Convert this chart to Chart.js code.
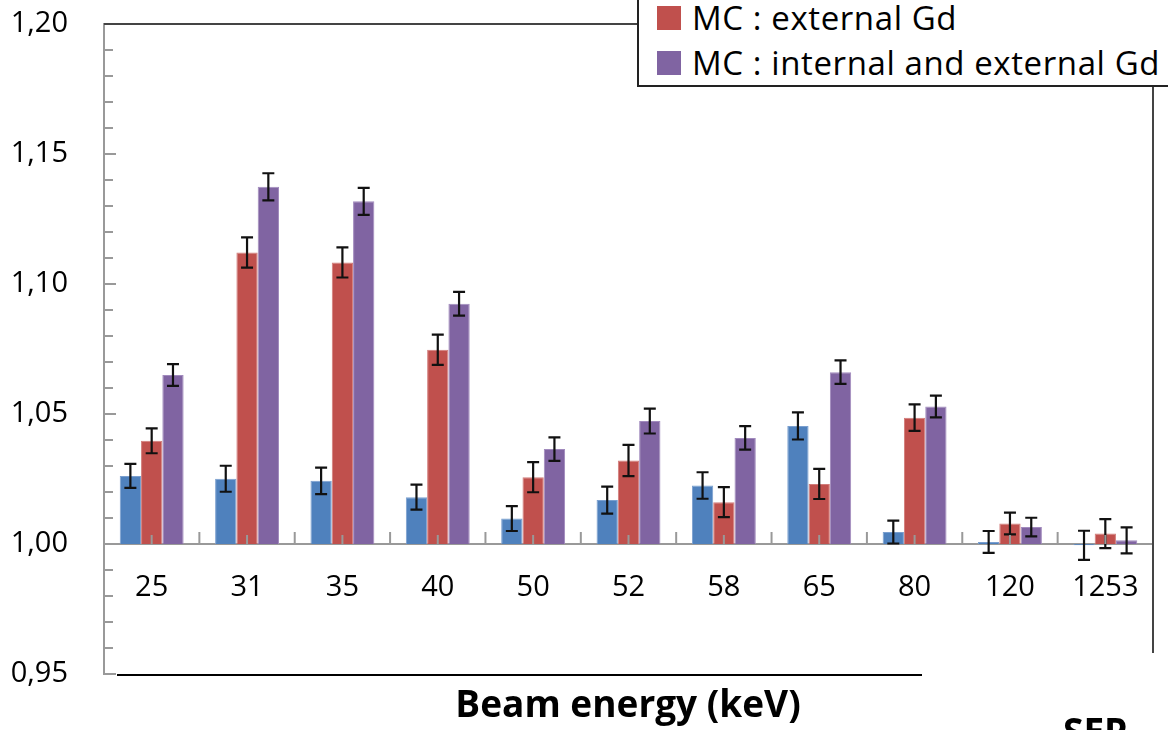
<!DOCTYPE html>
<html>
<head>
<meta charset="utf-8">
<script src="https://cdn.jsdelivr.net/npm/chart.js@4.4.1/dist/chart.umd.min.js"></script>
<style>
  body { margin: 0; background: #fff; }
  #wrap { position: relative; width: 1168px; height: 730px; overflow: hidden; }
  #legend {
    position: absolute; left: 637px; top: -52px; width: 580px;
    border: 2px solid #222; background: #fff;
    font-family: "Open Sans", sans-serif; font-size: 33px; letter-spacing: 0.6px; color: #000;
  }
  #legend .row { height: 45px; display: flex; align-items: center; padding-left: 18px; white-space: pre; }
  #legend .sw { width: 24px; height: 24px; margin-right: 11px; }
</style>
</head>
<body>
<div id="wrap">
  <canvas id="myChart" width="1168" height="730"></canvas>
  <div id="legend"></div>
</div>
<script>
// data
var energies = ['25', '31', '35', '40', '50', '52', '58', '65', '80', '120', '1253'];

var measured    = [1.0262, 1.0251, 1.0243, 1.0180, 1.0098, 1.0169, 1.0225, 1.0454, 1.0046, 1.0008, 0.9995];
var measuredErr = [0.0046, 0.0050, 0.0051, 0.0048, 0.0048, 0.0052, 0.0051, 0.0052, 0.0044, 0.0042, 0.0056];

var mcExternal    = [1.0397, 1.1121, 1.1083, 1.0747, 1.0257, 1.0321, 1.0161, 1.0231, 1.0486, 1.0079, 1.0040];
var mcExternalErr = [0.0048, 0.0058, 0.0058, 0.0058, 0.0058, 0.0060, 0.0058, 0.0058, 0.0051, 0.0042, 0.0056];

var mcBoth    = [1.0650, 1.1374, 1.1318, 1.0924, 1.0365, 1.0473, 1.0408, 1.0661, 1.0529, 1.0065, 1.0014];
var mcBothErr = [0.0042, 0.0052, 0.0052, 0.0046, 0.0045, 0.0048, 0.0045, 0.0045, 0.0042, 0.0036, 0.0050];

var yTickLabels = ['0,95', '1,00', '1,05', '1,10', '1,15', '1,20'];

var FONT = '"Open Sans", sans-serif';

// error bars, axis ticks and the loose frame lines
var extras = {
  id: 'extras',
  afterDatasetsDraw: function(chart) {
    var ctx = chart.ctx;
    var ys = chart.scales.y;
    ctx.save();
    ctx.strokeStyle = '#111';
    ctx.lineWidth = 2.2;
    chart.data.datasets.forEach(function(ds, di) {
      var meta = chart.getDatasetMeta(di);
      meta.data.forEach(function(bar, i) {
        var v = ds.data[i], e = ds.errors[i];
        var top = ys.getPixelForValue(v + e);
        var bot = ys.getPixelForValue(v - e);
        ctx.beginPath();
        ctx.moveTo(bar.x, top); ctx.lineTo(bar.x, bot);
        ctx.moveTo(bar.x - 6, top); ctx.lineTo(bar.x + 6, top);
        ctx.moveTo(bar.x - 6, bot); ctx.lineTo(bar.x + 6, bot);
        ctx.stroke();
      });
    });
    ctx.restore();
  },
  afterDraw: function(chart) {
    var ctx = chart.ctx;
    var ys = chart.scales.y, xs = chart.scales.x;
    var a = chart.chartArea;
    var base = ys.getPixelForValue(1);
    ctx.save();
    ctx.strokeStyle = '#999';
    ctx.lineWidth = 2;
    // y ticks pointing inwards
    ys.ticks.forEach(function(t, i) {
      var y = ys.getPixelForTick(i);
      var len = t.label ? 12 : 9;
      ctx.beginPath(); ctx.moveTo(a.left, y); ctx.lineTo(a.left + len, y); ctx.stroke();
    });
    // x ticks pointing up from the 1,00 line
    for (var i = 0; i < energies.length; i++) {
      var cx = xs.getPixelForValue(i);
      ctx.beginPath(); ctx.moveTo(cx, base); ctx.lineTo(cx, base - 9); ctx.stroke();
      if (i < energies.length - 1) {
        var bx = (cx + xs.getPixelForValue(i + 1)) / 2;
        ctx.beginPath(); ctx.moveTo(bx, base); ctx.lineTo(bx, base - 12); ctx.stroke();
      }
    }
    // frame pieces
    ctx.strokeStyle = '#444';
    ctx.beginPath(); ctx.moveTo(a.left, a.top); ctx.lineTo(640, a.top); ctx.stroke();
    ctx.beginPath(); ctx.moveTo(a.right, 86); ctx.lineTo(a.right, 653); ctx.stroke();
    ctx.strokeStyle = '#000';
    ctx.beginPath(); ctx.moveTo(a.left + 13, a.bottom + 1); ctx.lineTo(922, a.bottom + 1); ctx.stroke();
    // axis title and the cut off text below
    ctx.fillStyle = '#000';
    ctx.font = 'bold 37px ' + FONT;
    ctx.textAlign = 'center';
    ctx.textBaseline = 'middle';
    ctx.fillText('Beam energy (keV)', 628, 706);
    ctx.textAlign = 'left';
    ctx.textBaseline = 'top';
    ctx.fillText('SEP', 1063, 716);
    ctx.restore();
  }
};

var ctx = document.getElementById('myChart').getContext('2d');
var chart = new Chart(ctx, {
  type: 'bar',
  data: {
    labels: energies,
    datasets: [{
      label: 'Experiment',
      data: measured,
      errors: measuredErr,
      backgroundColor: '#4F81BD',
      borderColor: '#7A9FCF'
    }, {
      label: 'MC : external Gd',
      data: mcExternal,
      errors: mcExternalErr,
      backgroundColor: '#C0504D',
      borderColor: '#D27C7A'
    }, {
      label: 'MC : internal and external Gd',
      data: mcBoth,
      errors: mcBothErr,
      backgroundColor: '#8064A2',
      borderColor: '#A18ABD'
    }]
  },
  options: {
    responsive: false,
    animation: false,
    base: 1,
    borderWidth: 1,
    categoryPercentage: 0.67,
    barPercentage: 1.0,
    layout: { padding: { top: 24, right: 15, bottom: 56, left: 0 } },
    plugins: { legend: { display: false }, tooltip: { enabled: false } },
    scales: {
      x: {
        position: { y: 1 },
        afterFit: function(s) { s.paddingLeft = 0; s.paddingRight = 0; s.paddingTop = 0; s.paddingBottom = 0; },
        grid: { display: true, drawOnChartArea: false, drawTicks: true, tickLength: 6, tickColor: 'rgba(0,0,0,0)' },
        border: { color: '#999', width: 2 },
        ticks: { font: { family: FONT, size: 29 }, color: '#000', padding: 20 }
      },
      y: {
        min: 0.95,
        max: 1.2,
        afterFit: function(s) { s.width = 104; s.paddingTop = 0; s.paddingBottom = 0; },
        grid: { display: false },
        border: { color: '#999', width: 2 },
        ticks: {
          stepSize: 0.01,
          autoSkip: false,
          padding: 28,
          color: '#000',
          font: { family: FONT, size: 29 },
          callback: function(v) {
            var k = Math.round((v - 0.95) * 100);
            return k % 5 === 0 ? yTickLabels[k / 5] : '';
          }
        }
      }
    }
  },
  plugins: [extras]
});

// legend box, its first row sits above the page edge
var legend = document.getElementById('legend');
chart.data.datasets.forEach(function(ds) {
  var row = document.createElement('div');
  row.className = 'row';
  row.innerHTML = '<span class="sw" style="background:' + ds.backgroundColor + '"></span>' + ds.label;
  legend.appendChild(row);
});
</script>
</body>
</html>
